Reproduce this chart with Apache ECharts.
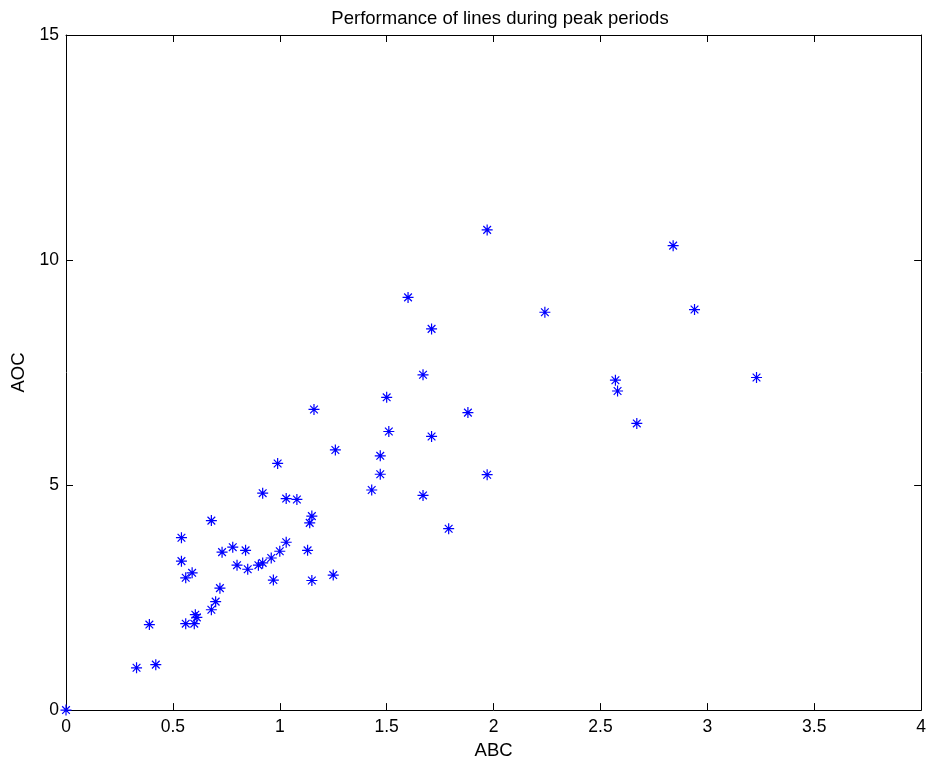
<!DOCTYPE html>
<html><head><meta charset="utf-8">
<script src="https://cdn.jsdelivr.net/npm/echarts@6/dist/echarts.min.js"></script>
<style>html,body{margin:0;padding:0;background:#fff}#c{width:929px;height:765px}</style>
</head><body><div id="c"></div>
<script>
const xValues = [0, 0.33, 0.42, 0.39, 0.54, 0.54, 0.56, 0.59, 0.56, 0.60, 0.605, 0.612, 0.68, 0.70, 0.72, 0.68,
  0.73, 0.78, 0.84, 0.80, 0.85, 0.90, 0.92, 0.96, 1.00, 1.03, 0.97, 1.13, 1.15, 1.14, 1.15, 1.03, 1.08, 0.92,
  1.25, 0.99, 1.16, 1.26, 1.43, 1.47, 1.47, 1.50, 1.51, 1.60, 1.67, 1.67, 1.71, 1.71, 1.79, 1.88, 1.97, 1.97,
  2.24, 2.57, 2.58, 2.67, 2.84, 2.94, 3.23];
const yValues = [0, 0.94, 1.01, 1.90, 3.83, 3.31, 2.94, 3.05, 1.92, 1.92, 2.12, 2.06, 2.23, 2.41, 2.71, 4.21,
  3.51, 3.62, 3.55, 3.22, 3.13, 3.22, 3.27, 3.38, 3.53, 3.73, 2.89, 3.55, 2.88, 4.16, 4.31, 4.70, 4.68, 4.82,
  3.00, 5.48, 6.68, 5.78, 4.89, 5.24, 5.65, 6.95, 6.19, 9.17, 7.45, 4.77, 8.47, 6.08, 4.03, 6.61, 10.67, 5.23,
  8.84, 7.33, 7.09, 6.37, 10.32, 8.90, 7.39];
const xTicks = [0, 0.5, 1, 1.5, 2, 2.5, 3, 3.5, 4];
const yTicks = [0, 5, 10, 15];
const titleText = 'Performance of lines during peak periods';
const xName = 'ABC';
const yName = 'AOC';

const points = xValues.map((x, i) => [x, yValues[i]]);
const font = 'Liberation Sans, Arial, Helvetica, sans-serif';
const star = 'path://M0 5 L10 5 M5 0 L5 10 M1.5 1.5 L8.5 8.5 M8.5 1.5 L1.5 8.5';
const axisLine = {show: true, onZero: false, lineStyle: {color: '#000', width: 1}};
const tick = {show: true, inside: true, length: 7, lineStyle: {color: '#000'}};

const chart = echarts.init(document.getElementById('c'), null, {renderer: 'canvas'});
chart.setOption({
  animation: false,
  backgroundColor: '#fff',
  title: {text: titleText, left: 495, textAlign: 'center', top: 4,
    textStyle: {fontFamily: font, fontSize: 18.5, fontWeight: 'normal', color: '#000'}},
  grid: {left: 66, right: 5, top: 35, bottom: 52, containLabel: false},
  xAxis: [{
    type: 'value', min: 0, max: 4, interval: 0.5, position: 'bottom',
    name: xName, nameLocation: 'middle', nameGap: 29,
    nameTextStyle: {fontFamily: font, fontSize: 18.5, color: '#000'},
    axisLine: axisLine, axisTick: tick, splitLine: {show: false},
    axisLabel: {fontFamily: font, fontSize: 17.5, color: '#000', margin: 8,
      formatter: v => xTicks.includes(v) ? String(v) : ''}
  }, {
    type: 'value', min: 0, max: 4, interval: 0.5, position: 'top',
    axisLine: axisLine, axisTick: tick, splitLine: {show: false}, axisLabel: {show: false}
  }],
  yAxis: [{
    type: 'value', min: 0, max: 15, interval: 5, position: 'left',
    name: yName, nameLocation: 'middle', nameGap: 37,
    nameTextStyle: {fontFamily: font, fontSize: 18.5, color: '#000'},
    axisLine: axisLine, axisTick: tick, splitLine: {show: false},
    axisLabel: {fontFamily: font, fontSize: 17.5, color: '#000', margin: 7,
      formatter: v => yTicks.includes(v) ? String(v) : ''}
  }, {
    type: 'value', min: 0, max: 15, interval: 5, position: 'right',
    axisLine: axisLine, axisTick: tick, splitLine: {show: false}, axisLabel: {show: false}
  }],
  series: [{
    type: 'scatter', xAxisIndex: 0, yAxisIndex: 0, data: points,
    symbol: star, symbolSize: 11, clip: false,
    itemStyle: {color: 'rgba(0,0,0,0)', borderColor: '#0000ff', borderWidth: 1.2, opacity: 1}
  }]
});
</script></body></html>
